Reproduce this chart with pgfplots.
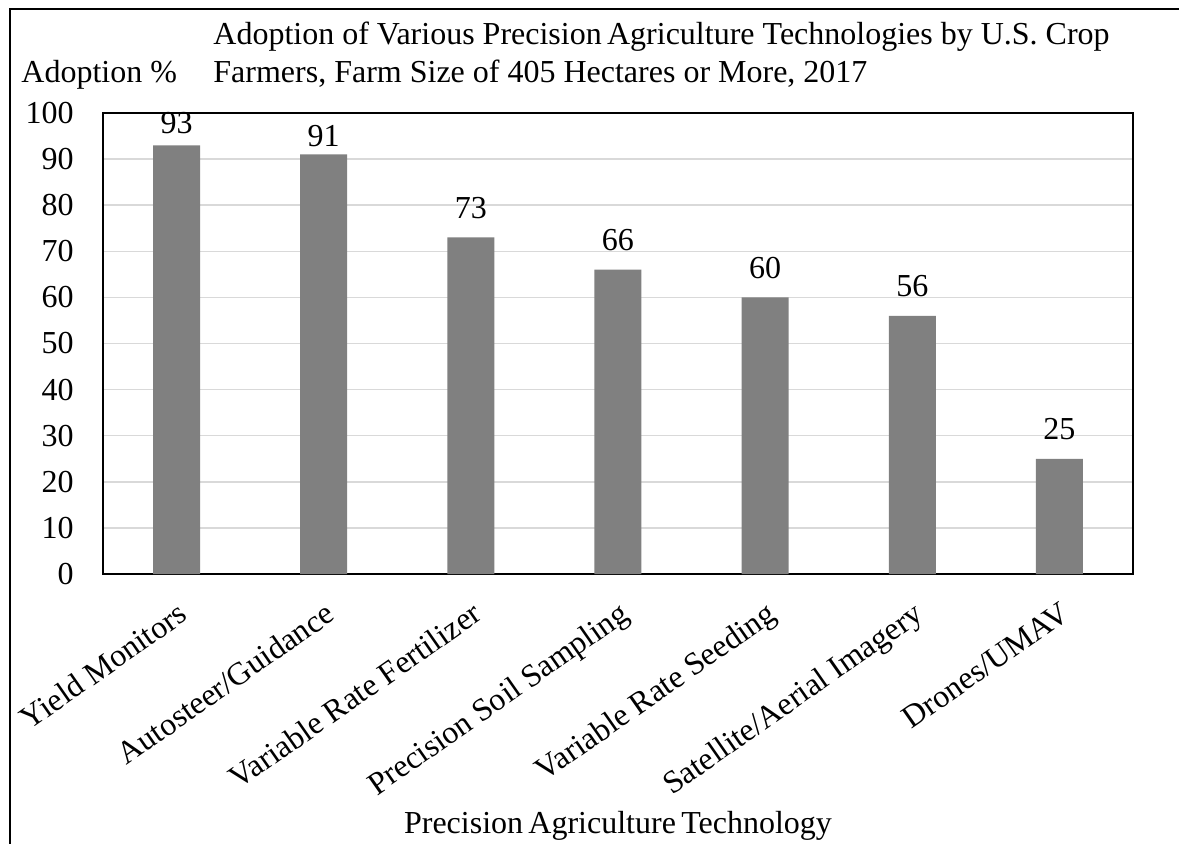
\documentclass[border=0pt]{standalone}
\usepackage{pgfplots}
\pgfplotsset{compat=1.18}
\usepackage{pgfplotstable}
\usepackage{fontspec}
\setmainfont{Liberation Serif}
\definecolor{barc}{HTML}{808080}
\definecolor{gridc}{HTML}{D9D9D9}
\pgfplotstableread{
x y off
0 93 6
1 91 4
2 73 9.5
3 66 9.5
4 60 9.5
5 56 9.5
6 25 9.5
}\adoption
\begin{document}
\begin{tikzpicture}[font=\fontsize{16}{18.5}\selectfont]
\path[use as bounding box] (0,0) rectangle (589.5pt,421.5pt);
\draw[line width=1pt] (5pt,-2pt) -- (5pt,417pt) -- (592pt,417pt);
\node[anchor=base west, inner sep=0pt] at (106.5pt,399pt) {Adoption of Various Precision\,Agriculture Technologies by U.S. Crop};
\node[anchor=base west, inner sep=0pt] at (106.5pt,380.5pt) {Farmers, Farm Size of 405 Hectares or More, 2017};
\node[anchor=base west, inner sep=0pt] at (10.5pt,380.5pt) {Adoption \%};
\begin{axis}[
  at={(51.5pt,134.5pt)}, anchor=south west,
  scale only axis, width=515pt, height=230.5pt,
  xmin=-0.5, xmax=6.5, ymin=0, ymax=100,
  ytick={0,10,...,100},
  xtick=data,
  xticklabels={Yield Monitors, Autosteer/Guidance, Variable Rate Fertilizer, Precision Soil Sampling, Variable Rate Seeding, Satellite/Aerial Imagery, Drones/UMAV},
  major tick length=0pt,
  axis line style={line width=1pt, black},
  ymajorgrids, grid style={gridc, line width=0.75pt},
  /pgf/number format/assume math mode=true,
  yticklabel style={anchor=east, inner sep=0pt},
  yticklabel shift=14.5pt,
  xticklabel style={rotate=35, anchor=north east, inner sep=0pt},
  xticklabel shift=13pt,
  xlabel={Precision\,Agriculture\,Technology},
  xlabel style={at={(axis description cs:0.5,0)}, anchor=base, inner sep=0pt, yshift=-129.5pt},
]
\addplot[ybar, bar width=23.5pt, fill=barc, draw=none,
  nodes near coords,
  point meta=explicit,
  visualization depends on={\thisrow{off} \as \myoff},
  nodes near coords style={anchor=base, inner sep=0pt, yshift=\myoff pt, black},
] table[x=x, y=y, meta=y] {\adoption};
\end{axis}
\end{tikzpicture}
\end{document}
